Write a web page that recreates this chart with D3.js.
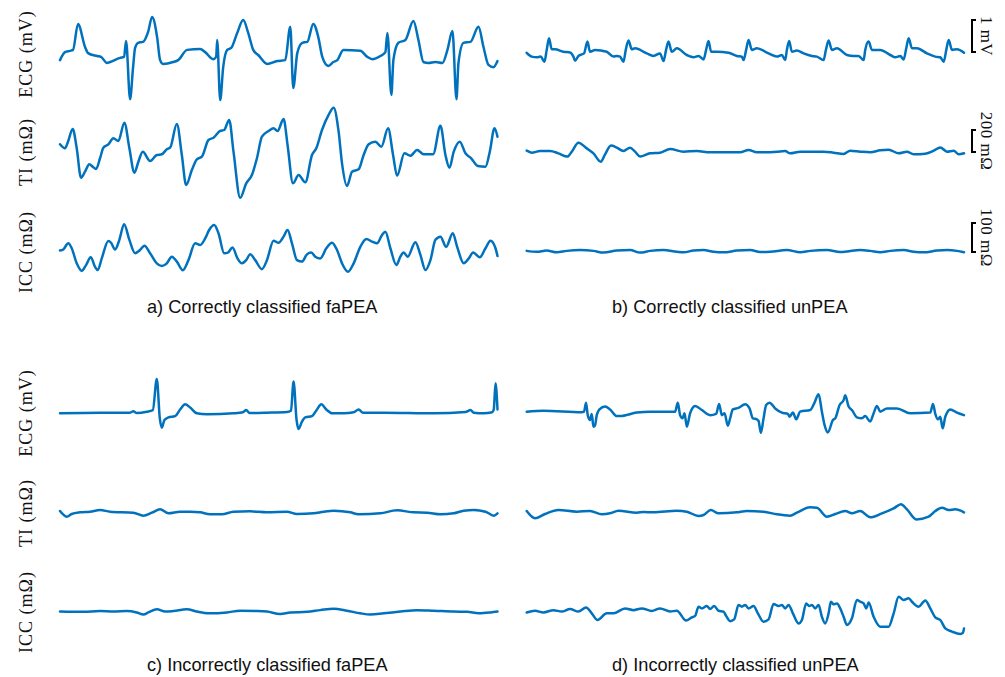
<!DOCTYPE html>
<html><head><meta charset="utf-8">
<script src="https://cdn.jsdelivr.net/npm/d3@7"></script>
<style>body{margin:0;background:#fff}</style>
</head><body><svg id="c" width="1005" height="677"></svg>
<script>
// ---------- data: [time (s), value] ----------
const T_END = 4.37; // seconds shown in each panel
const signalLabels = ["ECG (mV)", "TI (mΩ)", "ICC (mΩ)"];
const captions = ["a) Correctly classified faPEA", "b) Correctly classified unPEA",
                  "c) Incorrectly classified faPEA", "d) Incorrectly classified unPEA"];
const scaleBars = [{label: "1 mV", value: 1}, {label: "200 mΩ", value: 200}, {label: "100 mΩ", value: 100}];

const ecgA = [[0,-0.16],[0.05,0.09],[0.10,0.13],[0.13,0.16],[0.18,0.97],[0.25,0.25],[0.28,0.06],[0.37,-0.03],[0.41,-0.06],[0.47,-0.25],[0.50,-0.22],[0.60,-0.09],[0.64,-0.06],[0.66,0.44],[0.70,-1.38],[0.73,-0.38],[0.75,0.22],[0.78,0.38],[0.83,0.41],[0.88,0.72],[0.92,1.19],[0.97,0.56],[1.00,-0.16],[1.03,-0.28],[1.13,-0.22],[1.18,-0.16],[1.27,0.16],[1.40,0.19],[1.45,0.09],[1.53,-0.13],[1.56,-0.06],[1.57,0.47],[1.60,-1.41],[1.63,-0.38],[1.67,0.16],[1.71,0.22],[1.77,0.69],[1.83,1.09],[1.88,0.69],[1.93,0.16],[1.98,0],[2.07,-0.28],[2.17,-0.19],[2.25,-0.16],[2.30,0.88],[2.33,-1.03],[2.37,0.06],[2.42,0.38],[2.47,0.41],[2.53,0.97],[2.58,0.56],[2.62,-0.06],[2.68,-0.34],[2.73,-0.22],[2.77,-0.16],[2.83,0.16],[3.00,0.13],[3.07,-0.06],[3.12,-0.13],[3.20,-0.03],[3.25,0.09],[3.27,0.69],[3.31,-1.25],[3.33,-0.16],[3.38,0.38],[3.45,0.47],[3.53,1.06],[3.58,0.47],[3.63,-0.22],[3.68,-0.25],[3.75,-0.22],[3.82,-0.25],[3.87,0.16],[3.92,0.75],[3.96,-1.38],[3.98,-0.25],[4.03,0.38],[4.10,0.41],[4.18,0.88],[4.23,0.25],[4.28,-0.31],[4.33,-0.38],[4.37,-0.19]];
const tiA = [[0,70],[0.05,34],[0.08,94],[0.127,209],[0.167,34],[0.21,-234],[0.25,-179],[0.293,-112],[0.327,-134],[0.36,-155],[0.40,-57],[0.433,39],[0.483,70],[0.533,125],[0.583,100],[0.643,267],[0.693,34],[0.743,-188],[0.783,-88],[0.827,3],[0.90,-82],[0.967,-27],[1.017,-21],[1.067,25],[1.10,39],[1.167,255],[1.217,-27],[1.26,-300],[1.317,-164],[1.367,-66],[1.417,-43],[1.483,109],[1.533,130],[1.60,191],[1.64,200],[1.69,291],[1.733,3],[1.80,-416],[1.86,-285],[1.917,-209],[1.967,-57],[2.017,139],[2.083,191],[2.133,216],[2.173,191],[2.233,300],[2.273,64],[2.327,-285],[2.383,-209],[2.45,-276],[2.517,-27],[2.56,34],[2.617,200],[2.683,337],[2.733,403],[2.783,185],[2.817,-103],[2.867,-309],[2.917,-179],[2.983,-157],[3.033,-27],[3.083,70],[3.15,94],[3.21,48],[3.277,216],[3.327,-27],[3.367,-216],[3.44,-12],[3.50,-34],[3.567,18],[3.633,-21],[3.727,-21],[3.80,239],[3.85,-27],[3.89,-143],[3.933,3],[3.993,94],[4.05,-12],[4.107,-57],[4.173,-127],[4.25,-134],[4.293,3],[4.34,216],[4.37,139]];
const iccA = [[0,-2],[0.033,2],[0.083,23],[0.117,6],[0.167,-46],[0.217,-72],[0.26,-52],[0.307,-25],[0.35,-58],[0.377,-69],[0.417,-29],[0.483,31],[0.51,25],[0.55,2],[0.593,35],[0.64,89],[0.693,35],[0.75,-11],[0.80,0],[0.843,15],[0.90,-11],[0.967,-46],[1.017,-55],[1.067,-46],[1.117,-23],[1.167,-40],[1.227,-70],[1.283,-35],[1.35,23],[1.40,17],[1.45,40],[1.49,69],[1.54,86],[1.583,58],[1.64,-11],[1.677,-9],[1.723,9],[1.773,-29],[1.817,-46],[1.86,-35],[1.90,-15],[1.95,-35],[2.017,-66],[2.067,-35],[2.133,32],[2.183,25],[2.233,46],[2.273,69],[2.317,23],[2.367,-35],[2.417,-40],[2.467,-15],[2.51,-9],[2.55,-23],[2.60,-29],[2.66,6],[2.717,25],[2.767,0],[2.817,-46],[2.877,-75],[2.933,-46],[3.00,11],[3.06,38],[3.117,29],[3.167,23],[3.217,52],[3.25,63],[3.30,6],[3.36,-52],[3.40,-23],[3.433,-9],[3.473,-23],[3.55,27],[3.60,-17],[3.65,-69],[3.70,-35],[3.75,35],[3.80,46],[3.857,11],[3.923,58],[3.967,11],[4.033,-46],[4.083,-29],[4.127,-9],[4.193,-25],[4.25,6],[4.30,32],[4.35,6],[4.37,-21]];

const ecgB = [[0,0.07],[0.05,-0.05],[0.10,-0.07],[0.14,-0.05],[0.177,-0.21],[0.20,0.16],[0.223,0.52],[0.25,0.18],[0.283,0.18],[0.367,0.10],[0.433,0.08],[0.467,-0.05],[0.483,-0.18],[0.517,-0.03],[0.55,0.02],[0.573,0.05],[0.607,0.42],[0.633,0.10],[0.683,0.16],[0.80,0.10],[0.867,-0.05],[0.90,-0.03],[0.933,-0.05],[0.967,-0.21],[0.99,0.16],[1.017,0.45],[1.05,0.18],[1.083,0.21],[1.20,0.05],[1.267,-0.03],[1.333,0.05],[1.367,-0.19],[1.393,0.16],[1.417,0.42],[1.45,0.10],[1.50,0.21],[1.60,0],[1.667,-0.07],[1.717,-0.03],[1.767,-0.14],[1.793,0.16],[1.817,0.44],[1.843,0.10],[1.90,0.10],[2.017,0.07],[2.10,-0.03],[2.15,-0.05],[2.167,-0.16],[2.193,0.16],[2.217,0.47],[2.25,0.16],[2.30,0.21],[2.417,0.05],[2.50,-0.05],[2.55,0],[2.583,-0.16],[2.60,0.16],[2.623,0.44],[2.65,0.10],[2.70,0.14],[2.767,0.05],[2.85,-0.03],[2.90,-0.05],[2.967,-0.16],[2.99,0.16],[3.017,0.45],[3.05,0.16],[3.10,0.21],[3.20,0],[3.267,-0.03],[3.317,-0.03],[3.367,-0.16],[3.383,0.16],[3.417,0.42],[3.45,0.16],[3.533,0.16],[3.633,0],[3.683,-0.07],[3.733,-0.03],[3.767,-0.14],[3.793,0.21],[3.817,0.52],[3.85,0.21],[3.90,0.21],[4.00,0.05],[4.083,-0.05],[4.133,-0.07],[4.167,-0.21],[4.193,0.16],[4.217,0.47],[4.25,0.16],[4.30,0.18],[4.37,0.07]];
const tiB = [[0,12],[0.05,-6],[0.133,9],[0.233,9],[0.317,-12],[0.407,-42],[0.45,3],[0.517,85],[0.60,33],[0.667,-12],[0.74,-88],[0.783,-21],[0.843,58],[0.90,39],[0.967,9],[1.033,39],[1.083,3],[1.133,-42],[1.233,-12],[1.333,-6],[1.433,27],[1.567,3],[1.70,9],[1.833,-3],[2.00,-3],[2.133,-3],[2.217,18],[2.30,-3],[2.40,-3],[2.50,3],[2.583,9],[2.633,-12],[2.733,3],[2.833,3],[2.967,3],[3.067,-6],[3.167,-18],[3.233,12],[3.333,3],[3.433,-3],[3.533,15],[3.617,21],[3.717,-12],[3.80,3],[3.867,-21],[3.983,-15],[4.067,12],[4.133,42],[4.20,3],[4.267,12],[4.317,-21],[4.37,-12]];
const iccB = [[0,-3],[0.1,-6],[0.2,-2],[0.3,-8],[0.4,-3],[0.533,0],[0.667,-3],[0.767,-9],[0.9,-2],[1.033,0],[1.133,-9],[1.233,-3],[1.367,0],[1.5,-6],[1.567,-8],[1.667,-2],[1.767,0],[1.867,-6],[1.967,-8],[2.1,-2],[2.233,0],[2.333,-7],[2.433,-6],[2.6,0],[2.733,-8],[2.833,-3],[3.0,0],[3.133,-7],[3.2,-5],[3.333,0],[3.433,-3],[3.533,-8],[3.633,-3],[3.767,0],[3.867,-6],[3.967,-8],[4.1,-2],[4.2,0],[4.3,-3],[4.37,-8]];

const ecgC = [[0,-0.04],[0.40,-0.02],[0.70,-0.02],[0.733,0.02],[0.767,-0.03],[0.867,0.01],[0.927,0.06],[0.967,1.03],[0.997,-0.20],[1.017,-0.49],[1.043,-0.25],[1.083,-0.17],[1.15,-0.13],[1.20,0.08],[1.25,0.24],[1.30,0.14],[1.367,-0.04],[1.467,-0.07],[1.733,-0.04],[1.827,-0.01],[1.86,0.06],[1.893,-0.03],[2.067,-0.02],[2.267,0],[2.307,0.04],[2.333,0.95],[2.363,-0.25],[2.383,-0.53],[2.417,-0.30],[2.45,-0.17],[2.517,-0.13],[2.567,0.08],[2.61,0.24],[2.66,0.08],[2.717,-0.04],[2.833,-0.04],[2.933,-0.01],[2.983,0.08],[3.027,-0.02],[3.233,-0.02],[3.733,-0.04],[4.05,0],[4.10,0.06],[4.133,-0.02],[4.233,-0.04],[4.317,-0.01],[4.333,0.08],[4.35,0.90],[4.37,0.08]];
const tiC = [[0,18],[0.067,-33],[0.117,-9],[0.20,6],[0.30,12],[0.40,27],[0.50,12],[0.733,3],[0.833,-24],[0.917,3],[1.00,33],[1.083,-3],[1.20,12],[1.30,12],[1.40,6],[1.50,-12],[1.617,-12],[1.733,12],[1.90,15],[2.067,6],[2.267,12],[2.367,-9],[2.533,-3],[2.633,12],[2.733,21],[2.90,6],[2.983,-12],[3.20,-3],[3.367,24],[3.533,6],[3.667,3],[3.80,-12],[3.933,-3],[4.033,21],[4.133,27],[4.25,12],[4.333,-24],[4.37,-3]];
const iccC = [[0,-2],[0.233,-3],[0.40,0],[0.533,-2],[0.667,0],[0.767,-5],[0.833,-12],[0.883,-5],[0.967,6],[1.05,-2],[1.133,0],[1.267,6],[1.367,-2],[1.483,-8],[1.667,-5],[1.80,1],[1.967,0],[2.067,-2],[2.20,-10],[2.30,-5],[2.467,-3],[2.60,3],[2.733,8],[2.867,1],[3.00,-8],[3.10,-12],[3.233,-8],[3.40,-2],[3.567,3],[3.733,1],[3.933,-2],[4.067,-3],[4.183,-8],[4.30,-5],[4.37,-2]];

const ecgD = [[0,-0.02],[0.167,0.01],[0.55,-0.04],[0.573,-0.02],[0.593,0.26],[0.61,-0.13],[0.633,-0.28],[0.65,-0.09],[0.667,-0.49],[0.683,-0.45],[0.70,-0.13],[0.727,0.05],[0.783,0.14],[0.833,0.05],[0.90,-0.16],[0.933,-0.16],[1.10,-0.05],[1.233,-0.02],[1.483,-0.02],[1.51,0.26],[1.533,-0.13],[1.557,-0.23],[1.577,-0.07],[1.60,-0.49],[1.633,-0.07],[1.683,0.16],[1.75,0.03],[1.833,-0.13],[1.893,-0.09],[1.923,0.22],[1.95,-0.13],[1.977,-0.07],[2.01,-0.46],[2.033,-0.23],[2.06,0.05],[2.117,0.10],[2.183,0.21],[2.227,0.08],[2.26,-0.23],[2.30,-0.26],[2.317,-0.31],[2.34,-0.68],[2.367,-0.23],[2.393,0.19],[2.427,0.26],[2.483,0.08],[2.55,-0.05],[2.61,-0.09],[2.627,-0.18],[2.66,-0.05],[2.693,-0.26],[2.733,-0.02],[2.833,0.03],[2.873,0.24],[2.917,0.52],[2.95,-0.02],[2.977,-0.44],[3.01,-0.67],[3.06,-0.28],[3.083,-0.23],[3.127,0.19],[3.167,0.34],[3.183,0.49],[3.217,0.14],[3.25,0.03],[3.30,-0.20],[3.35,-0.23],[3.383,-0.16],[3.433,-0.33],[3.467,-0.07],[3.50,0.16],[3.533,-0.02],[3.60,0.08],[3.70,0.08],[3.833,-0.07],[4.033,-0.05],[4.06,0.22],[4.083,-0.09],[4.11,-0.26],[4.133,-0.18],[4.157,-0.54],[4.183,-0.18],[4.233,0.05],[4.30,-0.05],[4.37,-0.13]];
const tiD = [[0,18],[0.083,-48],[0.183,-9],[0.317,27],[0.50,12],[0.633,18],[0.75,-12],[0.833,-3],[0.917,21],[1.10,3],[1.167,9],[1.267,6],[1.50,21],[1.60,12],[1.717,-27],[1.767,-18],[1.84,27],[1.917,-3],[2.10,6],[2.20,18],[2.367,12],[2.50,-12],[2.633,-24],[2.70,3],[2.833,52],[2.90,48],[3.00,-33],[3.083,-9],[3.183,18],[3.25,-3],[3.333,18],[3.433,-39],[3.55,-3],[3.667,42],[3.74,79],[3.80,33],[3.893,-58],[4.017,-33],[4.083,18],[4.15,48],[4.217,27],[4.283,33],[4.37,6]];
const iccD = [[0,-5],[0.083,1],[0.167,-5],[0.267,3],[0.35,-2],[0.433,7],[0.517,-2],[0.593,12],[0.65,-8],[0.707,-31],[0.80,-8],[0.867,-8],[0.983,9],[1.067,3],[1.15,9],[1.25,0],[1.333,9],[1.433,-2],[1.50,1],[1.593,-33],[1.65,-22],[1.683,-17],[1.717,15],[1.75,9],[1.80,17],[1.833,7],[1.873,17],[1.917,1],[1.967,-2],[1.993,-17],[2.033,-35],[2.073,-29],[2.117,21],[2.15,15],[2.183,21],[2.217,9],[2.267,17],[2.31,-8],[2.367,-37],[2.417,-29],[2.467,24],[2.517,17],[2.55,21],[2.583,9],[2.617,21],[2.66,-8],[2.717,-43],[2.75,-31],[2.793,26],[2.823,17],[2.85,21],[2.883,9],[2.917,21],[2.95,-20],[2.983,-43],[3.017,-8],[3.04,32],[3.067,23],[3.10,26],[3.133,9],[3.167,-20],[3.20,-48],[3.25,-25],[3.30,38],[3.333,32],[3.367,26],[3.393,9],[3.417,29],[3.467,-20],[3.533,-54],[3.617,-54],[3.667,-8],[3.717,49],[3.767,38],[3.817,44],[3.85,32],[3.917,15],[3.983,36],[4.033,9],[4.083,-22],[4.133,-31],[4.183,-60],[4.25,-71],[4.333,-79],[4.36,-75],[4.37,-60]];

// ---------- layout ----------
const COLOR = "#0072BD";
const svg = d3.select("#c");
const xLeft  = d3.scaleLinear().domain([0, T_END]).range([60, 497.5]);
const xRight = d3.scaleLinear().domain([0, T_END]).range([526.7, 964]);
// pixels per unit: ECG 1 mV, TI 200 mΩ, ICC 100 mΩ (scale bars)
const unitPx = [32, 22, 29];
const unitVal = [1, 200, 100];
function yScale(sigIdx, zeroY) {
  return d3.scaleLinear().domain([0, unitVal[sigIdx]]).range([zeroY, zeroY - unitPx[sigIdx]]);
}
const panels = [
  {x: xLeft,  zero: [55, 152, 250], data: [ecgA, tiA, iccA], cap: captions[0], capX: 147, capY: 313, labels: true,  labelY: [54, 152, 252]},
  {x: xRight, zero: [55, 152, 250], data: [ecgB, tiB, iccB], cap: captions[1], capX: 612, capY: 313, labels: false},
  {x: xLeft,  zero: [412, 513, 611], data: [ecgC, tiC, iccC], cap: captions[2], capX: 147, capY: 671, labels: true, labelY: [413, 513, 612]},
  {x: xRight, zero: [411, 513, 611], data: [ecgD, tiD, iccD], cap: captions[3], capX: 612, capY: 671, labels: false}
];

const line = d3.line().curve(d3.curveMonotoneX);

panels.forEach(p => {
  p.data.forEach((series, si) => {
    const ys = yScale(si, p.zero[si]);
    svg.append("path")
      .attr("d", line.x(d => p.x(d[0])).y(d => ys(d[1]))(series))
      .attr("fill", "none")
      .attr("stroke", COLOR)
      .attr("stroke-width", 2.5)
      .attr("stroke-linejoin", "round")
      .attr("stroke-linecap", "round");
  });
  if (p.labels) {
    signalLabels.forEach((lab, si) => {
      svg.append("text")
        .attr("transform", `translate(32,${p.labelY[si]}) rotate(-90)`)
        .attr("text-anchor", "middle")
        .attr("font-family", "'Liberation Serif', 'DejaVu Serif', serif")
        .attr("font-size", 18)
        .attr("letter-spacing", 1)
        .attr("fill", "#111")
        .text(lab);
    });
  }
  svg.append("text")
    .attr("x", p.capX)
    .attr("y", p.capY)
    .attr("text-anchor", "start")
    .attr("font-family", "'Liberation Sans', Arial, sans-serif")
    .attr("font-size", 18.2)
    .attr("fill", "#111")
    .text(p.cap);
});

// scale bars (top right)
const barX = 972;
const barZero = [52, 152, 252];
scaleBars.forEach((b, si) => {
  const ys = yScale(si, barZero[si]);
  const y1 = ys(0), y2 = ys(b.value);
  svg.append("path")
    .attr("d", `M${barX + 4},${y2}H${barX}V${y1}H${barX + 4}`)
    .attr("fill", "none").attr("stroke", "#000").attr("stroke-width", 2);
  svg.append("text")
    .attr("transform", `translate(${barX + 9},${(y1 + y2) / 2}) rotate(90)`)
    .attr("text-anchor", "middle")
    .attr("font-family", "'Liberation Serif', 'DejaVu Serif', serif")
    .attr("font-size", 17)
    .attr("letter-spacing", 0.5)
    .attr("fill", "#111")
    .text(b.label);
});
</script></body></html>
